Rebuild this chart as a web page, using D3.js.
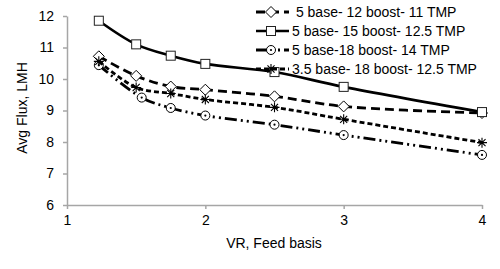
<!DOCTYPE html>
<html lang="en">
<head>
    <meta charset="UTF-8">
    <title>Avg Flux vs VR</title>
    <script src="https://d3js.org/d3.v7.min.js"></script>
    <style>
        body {
            margin: 0;
            background: #fff;
        }
        svg text {
            font-family: "Liberation Sans", Arial, sans-serif;
            fill: #000;
        }
        .axis path, .axis line {
            stroke: #a6a6a6;
            stroke-width: 1.5;
        }
        .axis text {
            font-size: 14px;
        }
        .axis-label {
            font-size: 14px;
        }
        .legend text {
            font-size: 14px;
        }
    </style>
</head>
<body>
    <div id="chart"></div>

    <script>
        // values
        const vr = [1.23, 1.5, 1.75, 2, 2.5, 3, 4];
        const vrCircle = [1.23, 1.54, 1.75, 2, 2.5, 3, 4];
        const diamondFlux = [10.72, 10.1, 9.76, 9.66, 9.45, 9.13, 8.92];
        const squareFlux = [11.85, 11.1, 10.74, 10.48, 10.22, 9.75, 8.95];
        const circleFlux = [10.44, 9.41, 9.08, 8.84, 8.55, 8.22, 7.59];
        const starFlux = [10.56, 9.73, 9.54, 9.35, 9.1, 8.72, 7.98];
        const seriesNames = [
            " 5 base- 12 boost- 11 TMP",
            "5 base- 15 boost- 12.5 TMP",
            "5 base-18 boost- 14 TMP",
            "3.5 base- 18 boost- 12.5 TMP"
        ];
        const xTicks = [1, 2, 3, 4];
        const yTicks = [6, 7, 8, 9, 10, 11, 12];

        const series = [
            { name: seriesNames[0], xs: vr, ys: diamondFlux, marker: "diamond", dash: "9,5", width: 2.8 },
            { name: seriesNames[1], xs: vr, ys: squareFlux, marker: "square", dash: null, width: 2.6 },
            { name: seriesNames[2], xs: vrCircle, ys: circleFlux, marker: "circle", dash: "12,4,2,4,2,4", width: 2.8 },
            { name: seriesNames[3], xs: vr, ys: starFlux, marker: "star", dash: "5,3", width: 2.8 }
        ];

        const width = 500, height = 269;

        const svg = d3.select("#chart")
            .append("svg")
            .attr("width", width)
            .attr("height", height);

        const xScale = d3.scaleLinear()
            .domain([1, 4])
            .range([67, 482]);

        const yScale = d3.scaleLinear()
            .domain([6, 12])
            .range([205, 16]);

        // x axis
        svg.append("g")
            .attr("class", "axis")
            .attr("transform", `translate(0, ${yScale(6)})`)
            .call(d3.axisBottom(xScale)
                .tickValues(xTicks)
                .tickSize(4)
                .tickSizeOuter(0)
                .tickPadding(6)
                .tickFormat(d3.format("d")));

        // y axis
        svg.append("g")
            .attr("class", "axis")
            .attr("transform", `translate(${xScale(1)}, 0)`)
            .call(d3.axisLeft(yScale)
                .tickValues(yTicks)
                .tickSize(4)
                .tickSizeOuter(0)
                .tickPadding(9)
                .tickFormat(d3.format("d")));

        // axis labels
        svg.append("text")
            .attr("class", "axis-label")
            .attr("x", 274)
            .attr("y", 248)
            .style("text-anchor", "middle")
            .text("VR, Feed basis");

        svg.append("text")
            .attr("class", "axis-label")
            .attr("transform", "rotate(-90)")
            .attr("x", -108)
            .attr("y", 27)
            .style("text-anchor", "middle")
            .text("Avg Flux, LMH");

        // marker drawing
        function drawMarker(g, type, cx, cy) {
            if (type === "diamond") {
                g.append("path")
                    .attr("d", `M${cx},${cy - 5.5}L${cx + 5.5},${cy}L${cx},${cy + 5.5}L${cx - 5.5},${cy}Z`)
                    .attr("fill", "#fff").attr("stroke", "#000").attr("stroke-width", 1);
            } else if (type === "square") {
                g.append("rect")
                    .attr("x", cx - 4.5).attr("y", cy - 4.5)
                    .attr("width", 9).attr("height", 9)
                    .attr("fill", "#fff").attr("stroke", "#222").attr("stroke-width", 1);
            } else if (type === "circle") {
                g.append("circle")
                    .attr("cx", cx).attr("cy", cy).attr("r", 4.5)
                    .attr("fill", "#fff").attr("stroke", "#000").attr("stroke-width", 1);
                g.append("circle")
                    .attr("cx", cx).attr("cy", cy).attr("r", 1.1)
                    .attr("fill", "#000");
            } else if (type === "star") {
                const r = 5;
                let d = "";
                for (let a = 0; a < 4; a++) {
                    const ang = a * Math.PI / 4 + Math.PI / 2;
                    d += `M${cx + r * Math.cos(ang)},${cy + r * Math.sin(ang)}L${cx - r * Math.cos(ang)},${cy - r * Math.sin(ang)}`;
                }
                g.append("path")
                    .attr("d", d)
                    .attr("stroke", "#000").attr("stroke-width", 1.1);
            }
        }

        const line = d3.line()
            .x(d => xScale(d.x))
            .y(d => yScale(d.y))
            .curve(d3.curveCatmullRom.alpha(0.5));

        series.forEach(s => {
            const pts = s.xs.map((x, i) => ({ x: x, y: s.ys[i] }));
            const g = svg.append("g");
            g.append("path")
                .datum(pts)
                .attr("d", line)
                .attr("fill", "none")
                .attr("stroke", "#000")
                .attr("stroke-width", s.width)
                .attr("stroke-dasharray", s.dash);
            pts.forEach(p => drawMarker(g, s.marker, xScale(p.x), yScale(p.y)));
        });

        // legend
        const legend = svg.append("g").attr("class", "legend");
        series.forEach((s, i) => {
            const y = 12 + i * 19;
            const row = legend.append("g");
            row.append("line")
                .attr("x1", 256).attr("x2", 289)
                .attr("y1", y).attr("y2", y)
                .attr("stroke", "#000")
                .attr("stroke-width", s.width)
                .attr("stroke-dasharray", s.dash);
            drawMarker(row, s.marker, 271, y);
            row.append("text")
                .attr("x", 292)
                .attr("y", y)
                .attr("dy", "0.35em")
                .attr("xml:space", "preserve")
                .style("white-space", "pre")
                .text(s.name);
        });
    </script>
</body>
</html>
